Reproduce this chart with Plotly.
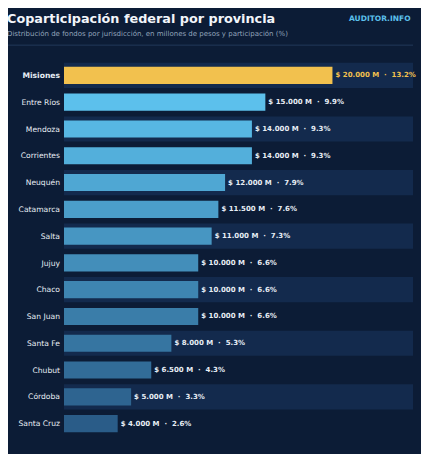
import plotly.graph_objects as go

provincias = ["Misiones","Entre Ríos","Mendoza","Corrientes","Neuquén","Catamarca","Salta","Jujuy","Chaco","San Juan","Santa Fe","Chubut","Córdoba","Santa Cruz"]
montos = [20000,15000,14000,14000,12000,11500,11000,10000,10000,10000,8000,6500,5000,4000]
porcentajes = [13.2,9.9,9.3,9.3,7.9,7.6,7.3,6.6,6.6,6.6,5.3,4.3,3.3,2.6]

def fmt(v):
    return f"{v:,}".replace(",", ".")

n = len(provincias)
def lerp(c1, c2, t):
    return "#%02x%02x%02x" % tuple(int(a + (b - a) * t) for a, b in zip(c1, c2))
light, dark = (0x5c, 0xc0, 0xec), (0x2a, 0x5c, 0x88)
colors = ["#f2c14e"] + [lerp(light, dark, i / (n - 2)) for i in range(n - 1)]
texts = [f"<b>$ {fmt(v)} M  ·  {p}%</b>" for v, p in zip(montos, porcentajes)]
tcolors = ["#f2c14e"] + ["#e8eef5"] * (n - 1)
ticktext = [f"<b>{p}</b>" if i == 0 else p for i, p in enumerate(provincias)]

fig = go.Figure(go.Bar(
    y=list(range(n)), x=montos, orientation="h", marker=dict(color=colors, line_width=0),
    width=0.64, text=texts, textposition="outside", cliponaxis=False,
    textfont=dict(size=7, color=tcolors, family="DejaVu Sans"), hoverinfo="skip"))

shapes = []
for i in range(n):
    if i % 2 == 0:
        shapes.append(dict(type="rect", xref="x domain", yref="y", x0=0, x1=1, y0=i - 0.47, y1=i + 0.47,
                           fillcolor="#132a4d", line_width=0, layer="below"))
shapes.append(dict(type="line", xref="paper", yref="paper", x0=-0.165, x1=1, y0=1.045, y1=1.045,
                   line=dict(color="#22395a", width=1)))
fig.update_layout(
    width=413, height=446, paper_bgcolor="#0c1c36", plot_bgcolor="#0c1c36",
    margin=dict(l=56, r=8, t=54, b=17), showlegend=False, shapes=shapes,
    xaxis=dict(range=[0, 26000], visible=False, fixedrange=True),
    yaxis=dict(tickvals=list(range(n)), ticktext=ticktext,
               showgrid=False, zeroline=False, ticks="", ticklabelstandoff=3,
               tickfont=dict(size=7.6, color="#e8eef5", family="DejaVu Sans")),
    font=dict(family="DejaVu Sans"),
    annotations=[
        dict(text="<b>Coparticipación federal por provincia</b>", xref="paper", yref="paper", x=-0.169, y=1.117,
             xanchor="left", yanchor="middle", showarrow=False, font=dict(size=12.8, color="#f2f5fa")),
        dict(text="Distribución de fondos por jurisdicción, en millones de pesos y participación (%)", xref="paper", yref="paper",
             x=-0.169, y=1.075, xanchor="left", yanchor="middle", showarrow=False, font=dict(size=7, color="#93a4bb")),
        dict(text="<b>AUDITOR.INFO</b>", xref="paper", yref="paper", x=1, y=1.117, xanchor="right", yanchor="middle",
             showarrow=False, font=dict(size=7.5, color="#5cc0ec")),
    ])
fig.update_yaxes(range=[n - 0.5, -0.5], autorange=False)
fig.write_html("out.html")
